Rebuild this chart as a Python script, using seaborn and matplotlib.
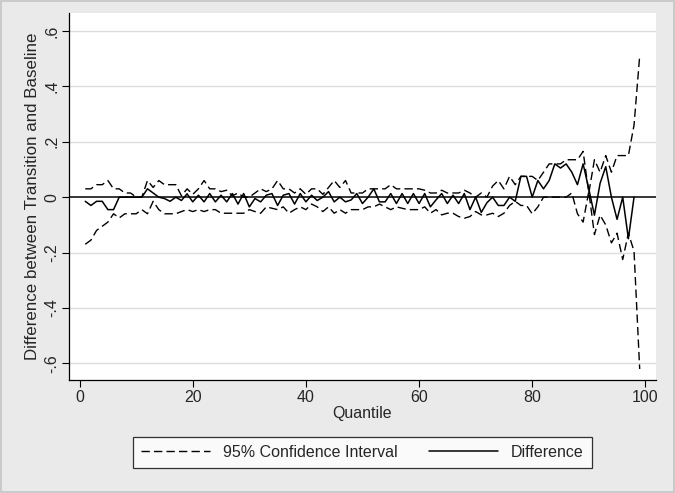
import numpy as np
import pandas as pd
import matplotlib
matplotlib.use('Agg')
import matplotlib.pyplot as plt
import seaborn as sns
from matplotlib.lines import Line2D
from matplotlib.patches import Rectangle

# quantiles 1..99
quantile = list(range(1, 100))

ci_upper = [0.03, 0.03, 0.045, 0.045, 0.06, 0.03, 0.03, 0.015, 0.015, 0.0,
            0.0, 0.06, 0.035, 0.06, 0.045, 0.045, 0.045, 0.005, 0.03, 0.01,
            0.03, 0.06, 0.03, 0.03, 0.02, 0.025, 0.005, 0.015, 0.0, 0.0,
            0.015, 0.03, 0.02, 0.03, 0.06, 0.03, 0.03, 0.015, 0.03, 0.01,
            0.03, 0.03, 0.01, 0.035, 0.06, 0.035, 0.06, 0.015, 0.015, 0.015,
            0.03, 0.03, 0.03, 0.03, 0.045, 0.03, 0.03, 0.03, 0.03, 0.03,
            0.025, 0.015, 0.015, 0.025, 0.015, 0.015, 0.015, 0.025, 0.015, 0.0,
            0.015, 0.0, 0.04, 0.06, 0.03, 0.075, 0.045, 0.075, 0.075, 0.075,
            0.06, 0.09, 0.12, 0.12, 0.12, 0.135, 0.135, 0.135, 0.165, 0.015,
            0.135, 0.09, 0.15, 0.09, 0.15, 0.15, 0.15, 0.26, 0.51]

ci_lower = [-0.17, -0.155, -0.12, -0.105, -0.09, -0.06, -0.075, -0.06, -0.06, -0.06,
            -0.045, -0.06, -0.015, -0.045, -0.06, -0.06, -0.06, -0.052, -0.045, -0.052,
            -0.045, -0.052, -0.045, -0.045, -0.058, -0.058, -0.058, -0.058, -0.058, -0.045,
            -0.052, -0.058, -0.035, -0.04, -0.045, -0.035, -0.058, -0.045, -0.035, -0.045,
            -0.025, -0.035, -0.052, -0.035, -0.058, -0.045, -0.058, -0.045, -0.045, -0.045,
            -0.035, -0.035, -0.025, -0.035, -0.045, -0.035, -0.04, -0.045, -0.045, -0.045,
            -0.035, -0.058, -0.045, -0.064, -0.058, -0.058, -0.07, -0.076, -0.07, -0.052,
            -0.064, -0.064, -0.058, -0.07, -0.058, -0.03, -0.015, -0.03, -0.03, -0.06,
            -0.035, 0.0, 0.0, 0.0, 0.0, 0.0, 0.015, -0.06, -0.09, 0.02,
            -0.135, -0.065, -0.1, -0.165, -0.13, -0.225, -0.13, -0.195, -0.62]

difference = [-0.015, -0.03, -0.015, -0.015, -0.045, -0.045, 0.0, 0.0, 0.0, 0.0,
              0.0, 0.03, 0.015, 0.0, -0.005, -0.015, 0.0, -0.012, 0.012, -0.017,
              0.007, -0.017, 0.013, -0.017, 0.007, -0.017, 0.013, -0.025, 0.013, -0.035,
              -0.005, -0.017, 0.007, 0.013, -0.03, 0.007, 0.013, -0.025, 0.013, -0.017,
              0.007, -0.012, 0.0, 0.02, -0.017, 0.0, -0.017, -0.01, 0.013, -0.023,
              0.0, 0.03, -0.017, -0.017, 0.013, -0.023, 0.013, -0.023, 0.013, -0.023,
              0.013, -0.035, -0.01, 0.013, -0.023, 0.007, -0.023, 0.013, -0.045, 0.0,
              -0.055, -0.02, 0.0, -0.03, -0.03, 0.0, -0.015, 0.075, 0.075, 0.0,
              0.06, 0.03, 0.06, 0.12, 0.105, 0.12, 0.09, 0.045, 0.12, 0.03,
              -0.065, 0.05, 0.11, 0.0, -0.08, 0.0, -0.15, 0.0, np.nan]

yticks = [-0.6, -0.4, -0.2, 0, 0.2, 0.4, 0.6]
ytick_labels = ['-.6', '-.4', '-.2', '0', '.2', '.4', '.6']
xticks = [0, 20, 40, 60, 80, 100]

df = pd.DataFrame({'quantile': quantile, 'upper': ci_upper,
                   'lower': ci_lower, 'diff': difference})

sns.set_style('white')
plt.rcParams['font.family'] = ['Liberation Sans', 'DejaVu Sans']

fig = plt.figure(figsize=(6.75, 4.93), dpi=100, facecolor='#eaeaea')
# thin darker border round the graph region
fig.patches.append(Rectangle((0.002, 0.002), 0.996, 0.996, transform=fig.transFigure,
                             fill=False, edgecolor='#c4c4c4', lw=1.2))
ax = fig.add_axes([0.102, 0.229, 0.870, 0.745])
ax.set_facecolor('white')

dash = (0, (6, 3))
sns.lineplot(data=df, x='quantile', y='upper', ax=ax, color='black', lw=1)
sns.lineplot(data=df, x='quantile', y='lower', ax=ax, color='black', lw=1)
sns.lineplot(data=df, x='quantile', y='diff', ax=ax, color='black', lw=1.1)
ax.lines[0].set_linestyle(dash)
ax.lines[1].set_linestyle(dash)

for t in [-0.6, -0.4, -0.2, 0.2, 0.4, 0.6]:
    ax.axhline(t, color='#dcdcdc', lw=1, zorder=0)
ax.axhline(0, color='black', lw=1.1, zorder=1)

ax.set_xlim(-1.9, 101.9)
ax.set_ylim(-0.66, 0.665)
ax.set_xticks(xticks)
ax.set_xticklabels([str(x) for x in xticks], fontsize=11.5)
ax.set_yticks(yticks)
ax.set_yticklabels(ytick_labels, fontsize=11.5, rotation=90, va='center')
ax.tick_params(axis='both', direction='out', length=5, width=0.8, color='black',
               bottom=True, left=True, pad=2)

for s in ['top', 'right']:
    ax.spines[s].set_visible(False)
for s in ['left', 'bottom']:
    ax.spines[s].set_color('black')
    ax.spines[s].set_linewidth(0.9)

ax.set_xlabel('Quantile', fontsize=11.5, labelpad=1)
ax.set_ylabel('Difference between Transition and Baseline', fontsize=12.2, labelpad=3)

handles = [Line2D([], [], color='black', lw=1, linestyle=dash),
           Line2D([], [], color='black', lw=1.1)]
leg = fig.legend(handles, ['95% Confidence Interval', 'Difference'],
                 loc='center', bbox_to_anchor=(0.537, 0.082), ncol=2,
                 fontsize=11.5, frameon=True, fancybox=False, edgecolor='black',
                 handlelength=4.3, handletextpad=0.8, columnspacing=2.0,
                 borderpad=0.5)
leg.get_frame().set_linewidth(0.9)
leg.get_frame().set_facecolor('white')

fig.savefig('out.png', dpi=100, facecolor=fig.get_facecolor())
